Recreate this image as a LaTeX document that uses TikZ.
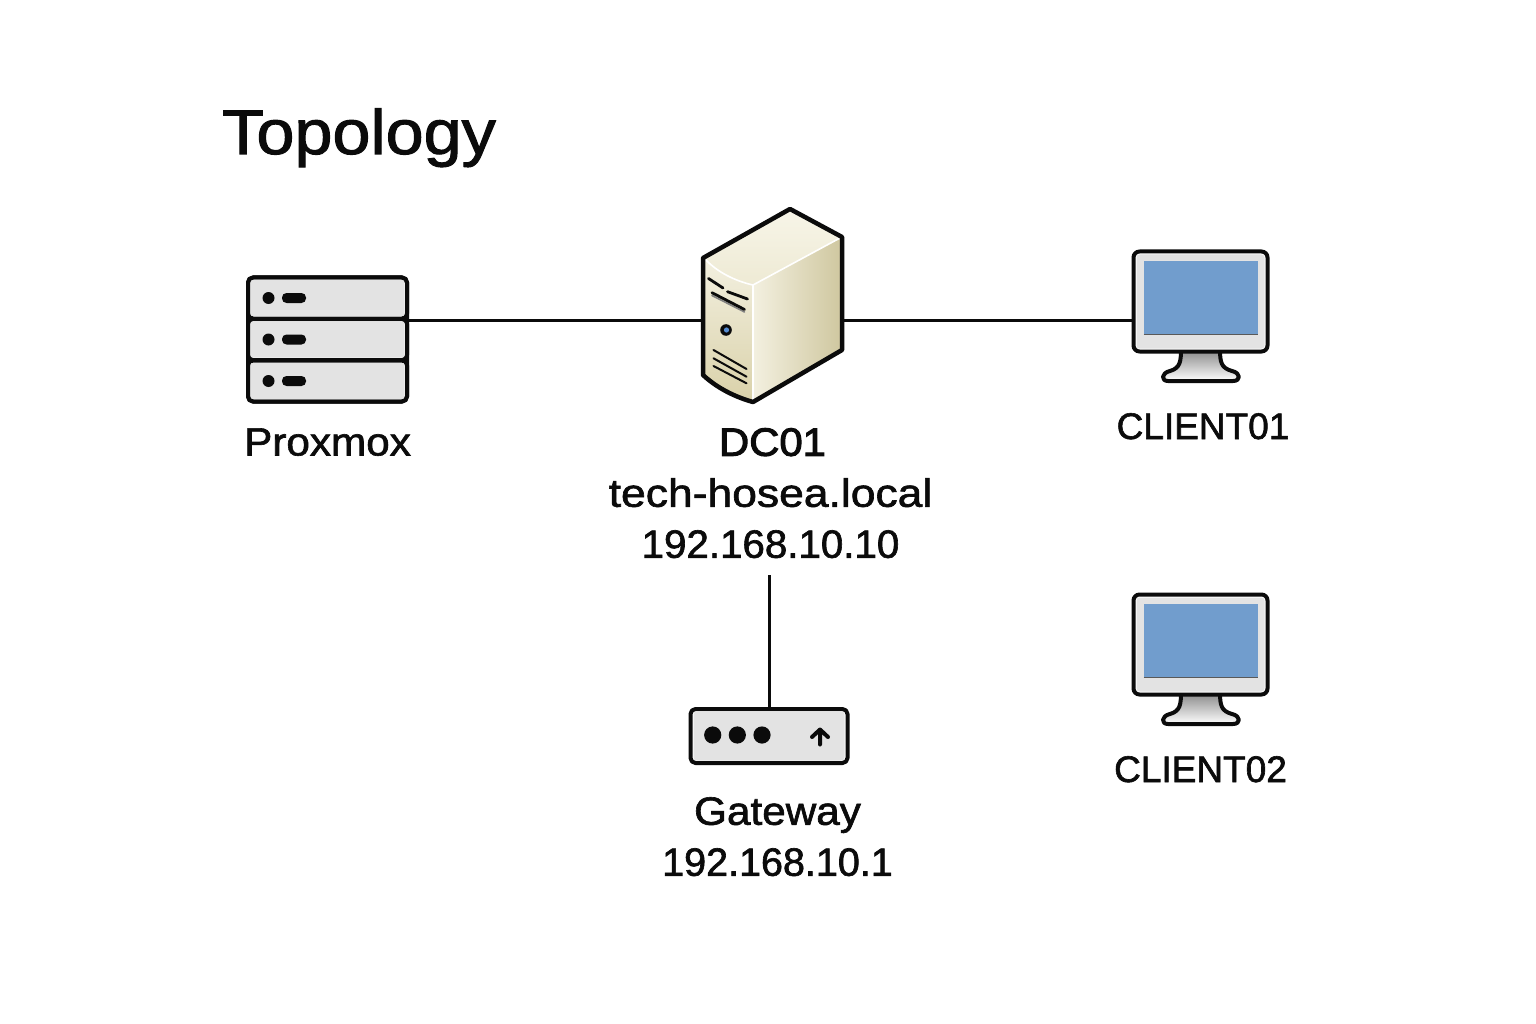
\documentclass[tikz,border=0pt]{standalone}
\usepackage{fontspec}
\setmainfont{Liberation Sans}
\newfontfamily\labfont[FakeBold=1.6,FakeStretch=1.07]{Liberation Sans}
\newfontfamily\widefont[FakeBold=1.6,FakeStretch=1.125]{Liberation Sans}
\newfontfamily\numfont[FakeBold=1.6,FakeStretch=1.02]{Liberation Sans}
\newfontfamily\plainfont[FakeBold=1.6]{Liberation Sans}
\newfontfamily\dcfont[FakeBold=2.6,FakeStretch=1.06]{Liberation Sans}
\newfontfamily\titlefont[FakeBold=1.6,FakeStretch=1.085]{Liberation Sans}
\definecolor{ink}{HTML}{0B0B0B}
\definecolor{panel}{HTML}{E3E3E3}
\definecolor{screen}{HTML}{719DCD}
\definecolor{creamA}{HTML}{F7F5E8}
\definecolor{creamB}{HTML}{EEEAD4}
\definecolor{creamC}{HTML}{F3F0E0}
\definecolor{creamD}{HTML}{CFC79F}
\definecolor{creamE}{HTML}{D9D1A9}
\tikzset{
  x=1pt,y=-1pt,
  icon/.style={draw=ink,line width=4pt,line join=round,inner sep=0pt,outer sep=0pt,rounded corners=5pt,fill=white},
  link/.style={draw=ink,line width=3pt},
  lab/.style={font=\labfont\fontsize{39.5}{51}\selectfont,text=ink,align=center,inner sep=0pt},
  clab/.style={lab,anchor=base,font=\plainfont\fontsize{37}{45}\selectfont},
  slot/.style={draw=ink,line width=2.8pt,line cap=round},
  vent/.style={draw=ink,line width=2pt,line cap=round},
  rackunit/.style={icon,minimum width=159pt,minimum height=41pt},
  monitor/.pic={
    \path[icon,rounded corners=0pt,fill=none,draw=ink,top color=gray!95,bottom color=white]
      (1181,349) .. controls (1181,362) and (1180,368) .. (1170,371)
      .. controls (1161,373) and (1161,381) .. (1168,381) -- (1233,381)
      .. controls (1241,381) and (1241,373) .. (1232,371)
      .. controls (1221,368) and (1220,362) .. (1220,349) -- cycle;
    \node[icon,rounded corners=6pt,minimum width=134pt,minimum height=100pt] (-body) at (1200.5,301.5) {};
    \fill[panel,rounded corners=3pt] (1136.5,254.5) rectangle (1264.5,348.5);
    \fill[screen] (1143.5,261) rectangle (1258,334);
    \draw[gray!70!black,line width=0.6pt] (1143.5,334.2) -- (1258,334.2);
  }
}
\begin{document}
\begin{tikzpicture}
\useasboundingbox[fill=white] (0,0) rectangle (1536,1024);

\node[font=\titlefont\fontsize{63}{70}\selectfont,text=ink,anchor=base west,inner sep=0pt] (title) at (222,154) {Topology};

% DC01 server
\node[minimum width=139pt,minimum height=193pt,inner sep=0pt,outer sep=0pt] (dc01) at (772.5,305.5) {};
% Proxmox rack
\node[rackunit] (proxmoxA) at (327.5,298) {};
\node[rackunit] (proxmoxB) at (327.5,339.5) {};
\node[rackunit] (proxmoxC) at (327.5,381) {};
\foreach \u/\y in {A/298,B/339.5,C/381}{
  \fill[panel,rounded corners=2pt] (250.5,\y-18) rectangle (404.5,\y+18);
  \fill[ink] (268.5,\y) circle (6pt);
  \fill[ink,rounded corners=4.5pt] (282,\y-5) rectangle (306,\y+5);
}
\draw[ink,line width=4pt,rounded corners=5pt] (248,277.5) rectangle (407,401.5);
\draw[ink,line width=4pt] (248,318.5) -- (407,318.5) (248,360) -- (407,360);
\node[lab,anchor=base] (proxmoxlabel) at (327.5,455.5) {Proxmox};

% Clients
\pic (client01) at (0,0) {monitor};
\pic (client02) at (0,343) {monitor};
\node[clab] (client01label) at (1203,439) {CLIENT01};
\node[clab] (client02label) at (1200.5,782) {CLIENT02};

% Gateway
\node[icon,minimum width=157pt,minimum height=54pt] (gateway) at (769,736) {};
\fill[panel,rounded corners=3pt] (693.5,711.5) rectangle (844.5,760.5);
\foreach \x in {712.7,737.3,762}{\fill[ink] (\x,735) circle (8.6pt);}
\draw[ink,line width=4pt,line join=round,line cap=round] (820,744.5) -- (820,729.5) (812,737) -- (820,729.5) -- (828,737);
\node[lab,anchor=north] (gatewaylabel) at (777.5,797) {Gateway\\{\plainfont 192.168.10.1}};

% DC01 label
\node[lab,anchor=north,inner ysep=17pt] (dc01label) at (770.5,411) {\hspace*{4pt}{\dcfont DC01}\\{\widefont tech-hosea.local}\\{\numfont 192.168.10.10}};

% Connectors
\coordinate[yshift=-1.5pt] (bus) at (proxmoxB.north east);
\draw[link] (bus) -- (bus -| dc01.west);
\draw[link] (bus -| dc01.east) -- (bus -| client01-body.west);
\draw[draw=ink,line width=3pt] (dc01label.south -| gateway.north) -- (gateway.north);

% Server body
\shade[top color=creamA,bottom color=creamB] (703,258) -- (790,209) -- (842,237) -- (753,285) .. controls (735,281) and (717,272) .. cycle;
\shade[left color=creamC,right color=creamD] (753,285) -- (842,237) -- (842,350) -- (753,402) -- cycle;
\shade[top color=creamC,bottom color=creamE] (703,258) .. controls (717,272) and (735,281) .. (753,285) -- (753,402) .. controls (735,397) and (717,388) .. (703,375) -- cycle;
\draw[white,line width=1.6pt] (705,259) .. controls (717,272) and (735,281) .. (753,285) -- (840,238);
\draw[white,line width=1.6pt] (753,285) -- (753,400);
\draw[ink,line width=4.5pt,line join=round] (703,258) -- (790,209) -- (842,237) -- (842,350) -- (753,402) .. controls (735,397) and (717,388) .. (703,375) -- cycle;
\draw[slot] (708.5,278.5) -- (723,288);
\draw[slot] (727.5,291.7) -- (747.5,299);
\draw[gray,line width=1.6pt,line cap=round] (712,295.5) -- (744.5,312);
\draw[slot] (712,292.7) -- (744.5,309.5);
\fill[ink] (726,330) circle (5.8pt);
\fill[cyan!50!blue!70!white] (726.5,330) circle (2.6pt);
\draw[vent] (713.5,350) -- (746.5,369);
\draw[vent] (713.5,358.3) -- (746.5,376.7);
\draw[vent] (713.5,366) -- (746.5,383.3);
\end{tikzpicture}
\end{document}
